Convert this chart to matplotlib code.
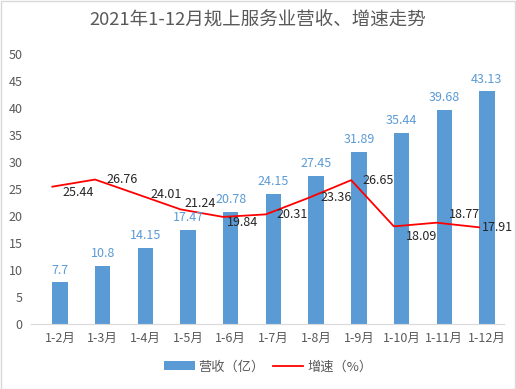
import matplotlib
matplotlib.use('Agg')
import matplotlib.pyplot as plt
from matplotlib.patches import Rectangle
from matplotlib.lines import Line2D
from matplotlib.patches import Patch

plt.rcParams['font.family'] = ['Noto Sans CJK SC', 'DejaVu Sans']

months = ['1-2月', '1-3月', '1-4月', '1-5月', '1-6月', '1-7月', '1-8月',
          '1-9月', '1-10月', '1-11月', '1-12月']
revenue = [7.7, 10.8, 14.15, 17.47, 20.78, 24.15, 27.45, 31.89, 35.44, 39.68, 43.13]
growth = [25.44, 26.76, 24.01, 21.24, 19.84, 20.31, 23.36, 26.65, 18.09, 18.77, 17.91]
revenue_labels = ['7.7', '10.8', '14.15', '17.47', '20.78', '24.15', '27.45',
                  '31.89', '35.44', '39.68', '43.13']
growth_labels = ['25.44', '26.76', '24.01', '21.24', '19.84', '20.31', '23.36',
                 '26.65', '18.09', '18.77', '17.91']
# label offsets (points) for the growth labels
growth_dx = [7, 8, 9, 3, 3, 8, 9, 8, 9, 9, 2]
growth_dy = [-4, 0, 0, 4, -4, 0, 0, 0, -7, 6, 0]

blue = '#5b9bd5'
red = '#ff0000'
gray = '#595959'

fig = plt.figure(figsize=(5.16, 3.89), dpi=100)
ax = fig.add_axes([31/516, 0.167, 473/516, 0.694])

x = list(range(len(months)))
bw = 0.36
ax.bar(x, revenue, width=bw, color=blue, zorder=2)
xl = [i - bw / 2 for i in x]
ax.plot(xl, growth, color=red, lw=1.3, zorder=3)

for i in x:
    ax.annotate(revenue_labels[i], (x[i], revenue[i]), xytext=(0, 4),
                textcoords='offset points', ha='center', va='bottom',
                color=blue, fontsize=9)
    ax.annotate(growth_labels[i], (xl[i], growth[i]), xytext=(growth_dx[i], growth_dy[i]),
                textcoords='offset points', ha='left', va='center',
                color='#262626', fontsize=9, zorder=4)

ax.set_xlim(-0.68, 10.4)
ax.set_ylim(0, 50)
ax.set_yticks(range(0, 51, 5))
ax.set_xticks(x)
ax.set_xticklabels(months)
ax.tick_params(axis='both', length=0, colors=gray, labelsize=9)
ax.tick_params(axis='x', pad=6)
ax.tick_params(axis='y', pad=6)
for s in ['top', 'right', 'left']:
    ax.spines[s].set_visible(False)
ax.spines['bottom'].set_color('#d9d9d9')

fig.text(0.5, 0.949, '2021年1-12月规上服务业营收、增速走势', ha='center', va='center',
         fontsize=13.3, color=gray)

handles = [Patch(facecolor=blue, label='营收（亿）'),
           Line2D([0], [0], color=red, lw=1.3, label='增速（%）')]
fig.legend(handles=handles, loc='center', bbox_to_anchor=(0.52, 0.057), ncol=2,
           frameon=False, fontsize=9.5, labelcolor=gray, handlelength=2.3,
           columnspacing=0.6, handletextpad=0.3)

fig.patches.append(Rectangle((0.001, 0.001), 0.997, 0.996, transform=fig.transFigure,
                             fill=False, edgecolor='#d9d9d9', lw=1))

fig.savefig('out.png', dpi=100)
